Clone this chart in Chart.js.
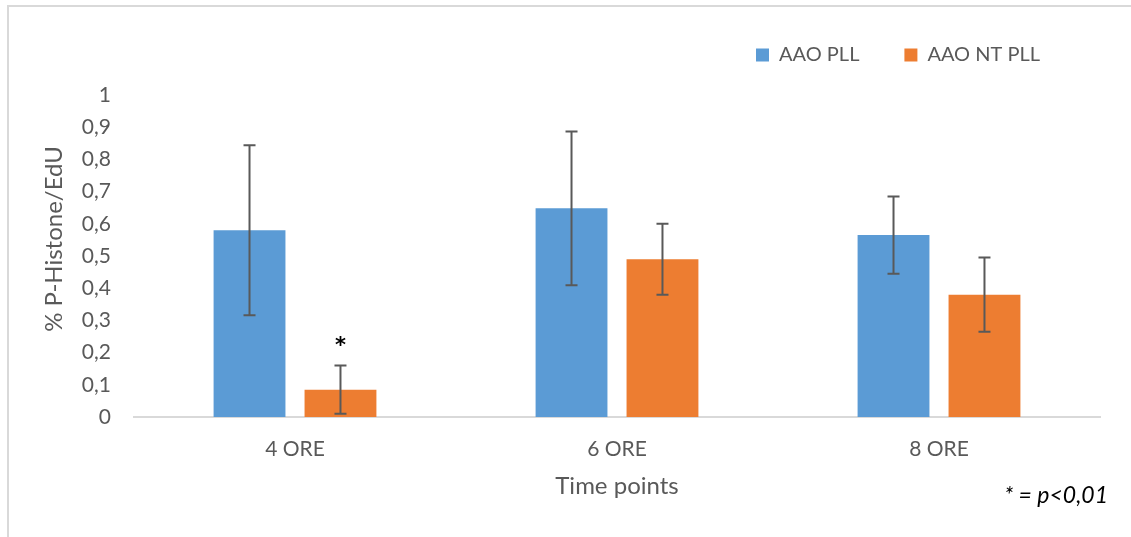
<!DOCTYPE html>
<html>
<head>
<meta charset="utf-8">
<title>% P-Histone/EdU</title>
<script src="https://cdn.jsdelivr.net/npm/chart.js@4/dist/chart.umd.min.js"></script>
<style>
  html, body { margin: 0; padding: 0; background: #ffffff; overflow: hidden; }
  #frame {
    position: absolute; left: 7px; top: 5px; width: 2000px; height: 2000px;
    border-top: 2px solid #d9d9d9; border-left: 2px solid #d9d9d9;
  }
  #wrap { position: absolute; left: 0; top: 0; width: 1131px; height: 537px; }
</style>
</head>
<body>
<div id="frame"></div>
<div id="wrap"><canvas id="chart" width="1131" height="537"></canvas></div>
<script>
// Time points and measured ratios (mean and error per group)
const categories = ['4 ORE', '6 ORE', '8 ORE'];
const seriesNames = ['AAO PLL', 'AAO NT PLL'];
const aaoPll = [0.58, 0.648, 0.565];
const aaoPllErr = [0.264, 0.239, 0.12];
const aaoNtPll = [0.085, 0.49, 0.38];
const aaoNtPllErr = [0.075, 0.11, 0.115];
const yTicks = [0, 0.1, 0.2, 0.3, 0.4, 0.5, 0.6, 0.7, 0.8, 0.9, 1];
// group index / series index flagged as significant
const significant = [{ dataset: 1, index: 0 }];
const footnote = '* = p<0,01';
const yTitle = '% P-Histone/EdU';
const xTitle = 'Time points';

const FONT = 'Lato, "Open Sans", "DejaVu Sans", sans-serif';
const TEXT = '#595959';

const errors = [aaoPllErr, aaoNtPllErr];

const errorBars = {
  id: 'errorBars',
  afterDatasetsDraw(chart) {
    const { ctx } = chart;
    const y = chart.scales.y;
    ctx.save();
    ctx.strokeStyle = '#595959';
    ctx.lineWidth = 2;
    chart.data.datasets.forEach((ds, di) => {
      const meta = chart.getDatasetMeta(di);
      meta.data.forEach((bar, i) => {
        const v = ds.data[i], e = errors[di][i];
        const top = y.getPixelForValue(v + e);
        const bot = y.getPixelForValue(v - e);
        const x = bar.x, cap = 6;
        ctx.beginPath();
        ctx.moveTo(x, top); ctx.lineTo(x, bot);
        ctx.moveTo(x - cap, top); ctx.lineTo(x + cap, top);
        ctx.moveTo(x - cap, bot); ctx.lineTo(x + cap, bot);
        ctx.stroke();
      });
    });
    // significance marks
    ctx.fillStyle = '#000000';
    ctx.font = 'bold 21px "DejaVu Sans", sans-serif';
    ctx.textAlign = 'center';
    ctx.textBaseline = 'alphabetic';
    significant.forEach(s => {
      const bar = chart.getDatasetMeta(s.dataset).data[s.index];
      const v = chart.data.datasets[s.dataset].data[s.index] + errors[s.dataset][s.index];
      ctx.fillText('*', bar.x, y.getPixelForValue(v) - 13);
    });
    ctx.restore();
  },
  afterDraw(chart) {
    const { ctx, chartArea } = chart;
    ctx.save();
    // vertical axis title
    ctx.fillStyle = TEXT;
    ctx.font = '24px ' + FONT;
    ctx.textAlign = 'center';
    ctx.textBaseline = 'middle';
    ctx.translate(54, chartArea.top + 144);
    ctx.rotate(-Math.PI / 2);
    ctx.fillText(yTitle, 0, 0);
    ctx.restore();
    // footnote
    ctx.save();
    ctx.fillStyle = '#000000';
    ctx.font = 'italic 23px ' + FONT;
    ctx.textAlign = 'right';
    ctx.textBaseline = 'alphabetic';
    ctx.fillText(footnote, 1108, 503);
    ctx.restore();
  }
};

// legend sits in the top band, right-aligned over the last group
const legendPlacement = {
  id: 'legendPlacement',
  afterLayout(chart) {
    const lg = chart.legend;
    const pad = lg.options.labels.padding;
    const itemH = lg.options.labels.font.size;
    const dx = (1040 + pad) - lg.right;
    const dy = (55 - itemH / 2 - pad) - lg.top;
    lg.left += dx; lg.right += dx;
    lg.top += dy; lg.bottom += dy;
  }
};

new Chart(document.getElementById('chart'), {
  type: 'bar',
  data: {
    labels: categories,
    datasets: [
      { label: seriesNames[0], data: aaoPll, backgroundColor: '#5B9BD5', borderWidth: 0,
        categoryPercentage: 0.565, barPercentage: 0.79 },
      { label: seriesNames[1], data: aaoNtPll, backgroundColor: '#ED7D31', borderWidth: 0,
        categoryPercentage: 0.565, barPercentage: 0.79 }
    ]
  },
  options: {
    responsive: false,
    animation: false,
    devicePixelRatio: 1,
    layout: { padding: { left: 0, right: 31, top: 20, bottom: 0 } },
    plugins: {
      legend: {
        position: 'top',
        align: 'end',
        labels: {
          boxWidth: 13, boxHeight: 13, padding: 45,
          color: TEXT, font: { family: FONT, size: 20 }
        }
      },
      tooltip: { enabled: false }
    },
    scales: {
      x: {
        grid: { display: false, drawTicks: false },
        border: { display: true, color: '#d9d9d9', width: 2 },
        ticks: { color: TEXT, font: { family: FONT, size: 21 }, padding: 20 },
        title: {
          display: true, text: xTitle, color: TEXT,
          font: { family: FONT, size: 24 }, padding: { top: 0, bottom: 36 }
        },
        afterFit(scale) { scale.height = 120; }
      },
      y: {
        min: 0, max: 1,
        grid: { display: false, drawTicks: false },
        border: { display: false },
        afterBuildTicks(scale) { scale.ticks = yTicks.map(v => ({ value: v })); },
        ticks: {
          color: TEXT, font: { family: FONT, size: 21 }, padding: 23,
          callback: v => String(Math.round(v * 10) / 10).replace('.', ',')
        },
        afterFit(scale) { scale.width = 134; }
      }
    }
  },
  plugins: [errorBars, legendPlacement]
});
</script>
</body>
</html>
